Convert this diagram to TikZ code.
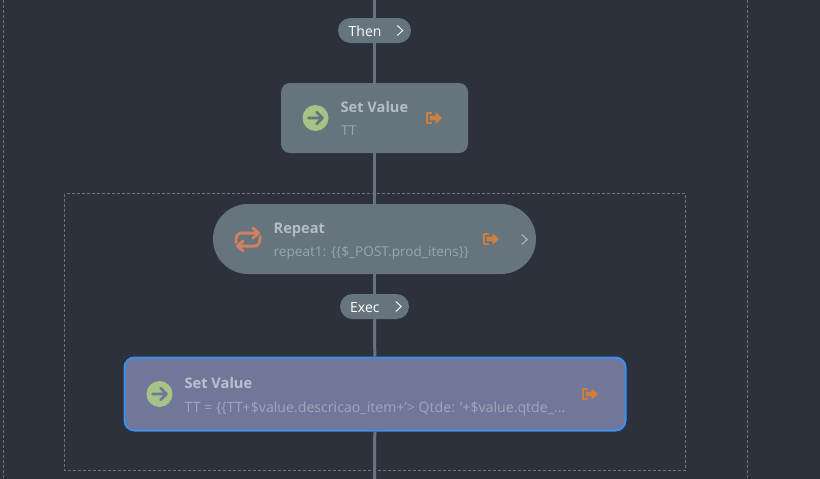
\documentclass[tikz,border=0pt]{standalone}
\usepackage{fontspec}
\setmainfont{Open Sans}
\definecolor{pagebg}{HTML}{2D313C}
\definecolor{nodegray}{HTML}{66747E}
\definecolor{nodeblue}{HTML}{707799}
\definecolor{selblue}{HTML}{3B8FEF}
\definecolor{dashgray}{HTML}{6E747C}
\definecolor{titletxt}{HTML}{B4BCC8}
\definecolor{subtxt}{HTML}{98A6B4}
\definecolor{seltitle}{HTML}{BCC0CE}
\definecolor{selsub}{HTML}{A0A6BC}
\definecolor{okgreen}{HTML}{A6C285}
\definecolor{loopred}{HTML}{CF7F62}
\definecolor{exitorange}{HTML}{CD7F3E}
\tikzset{
  flowbox/.style={draw=none, fill=nodegray, rounded corners=9pt, inner sep=0pt},
  selbox/.style={draw=selblue, line width=2pt, fill=nodeblue, rounded corners=10pt, inner sep=0pt},
  pillbox/.style={fill=nodegray, rounded corners=12.5pt, inner sep=0pt, minimum height=25pt},
  wire/.style={nodegray, line width=3pt},
  frame/.style={dashgray, line width=0.6pt, dash pattern=on 3pt off 2pt},
  titletext/.style={anchor=base west, inner sep=0pt, font=\fontsize{14.6}{16}\selectfont\bfseries, text=titletxt},
  subtext/.style={anchor=base west, inner sep=0pt, font=\fontsize{13.6}{16}\selectfont, text=subtxt},
  pilltext/.style={anchor=base west, inner sep=0pt, font=\fontsize{14}{16}\selectfont, text=white},
  pics/chevron/.style={code={\draw[#1, line width=0.9pt] (-2.7,-5) -- (2.7,0) -- (-2.7,5);}},
  pics/goicon/.style={code={
    \fill[okgreen] (0,0) circle (13);
    \draw[#1, line width=2.6pt, line cap=round, line join=round] (-7,0) -- (7,0) (1,-6) -- (7,0) -- (1,6);
  }},
  pics/exiticon/.style={code={
    \draw[exitorange, line width=1.7pt, line join=round] (-2.5,-5) -- (-7,-5) -- (-7,5) -- (-2.5,5);
    \fill[exitorange] (-4.5,-2.3) -- (1.5,-2.3) -- (1.5,-6) -- (8,0) -- (1.5,6) -- (1.5,2.3) -- (-4.5,2.3) -- cycle;
  }},
  pics/loopicon/.style={code={
    \draw[loopred, line width=3pt, line cap=round, line join=round]
      (-12,3) -- (-12,1) .. controls (-12,-4) and (-10,-6.5) .. (-6,-6.5) -- (10,-6.5)
      (5,-11.5) -- (10.5,-6.5) -- (5,-1.5)
      (12,-3) -- (12,-1) .. controls (12,4) and (10,6.5) .. (6,6.5) -- (-10,6.5)
      (-5,1.5) -- (-10.5,6.5) -- (-5,11.5);
  }}
}
\begin{document}
\begin{tikzpicture}[x=1pt, y=-1pt]
  \useasboundingbox[fill=pagebg] (0,0) rectangle (820,479);
  % dashed frames
  \draw[frame] (3.5,0) -- (3.5,479);
  \draw[frame] (747.5,0) -- (747.5,479);
  \draw[frame] (64.5,193.5) rectangle (685.5,470);
  % nodes
  \coordinate (top) at (374.5,0);
  \coordinate (bottom) at (374.5,479);
  \node[pillbox, minimum width=73pt] (then) at (374.5,30.5) {};
  \node[flowbox, minimum width=187pt, minimum height=70pt] (setone) at (374.5,118) {};
  \node[flowbox, rounded corners=35pt, minimum width=323pt, minimum height=70pt] (repeat) at (374.5,239) {};
  \node[pillbox, minimum width=69pt] (exec) at (374.5,306.5) {};
  \node[selbox, minimum width=501pt, minimum height=73pt] (settwo) at (375,394) {};
  % connectors
  \draw[wire] (top) -- (then);
  \draw[wire] (then) -- (setone);
  \draw[wire] (setone) -- (repeat);
  \draw[wire] (repeat) -- (exec);
  \draw[wire] (exec) -- (settwo);
  \draw[wire] (settwo) -- (bottom);
  % pills
  \node[pilltext] (thenlabel) at (348.5,36) {Then};
  \pic at (400,30.5) {chevron=white};
  \node[pilltext] (execlabel) at (350,312) {Exec};
  \pic at (398.5,306.5) {chevron=white};
  % first set value
  \pic at (315.5,118) {goicon=nodegray};
  \node[titletext] (setonetitle) at (340.5,112) {Set Value};
  \node[subtext] (setonesub) at (341,135.5) {TT};
  \pic at (434,118) {exiticon};
  % repeat
  \pic at (248,239.5) {loopicon};
  \node[titletext] (repeattitle) at (273.5,233) {Repeat};
  \node[subtext] (repeatsub) at (273.5,256.5) {repeat1: \{\{\$\_POST.prod\_itens\}\}};
  \pic at (491,239) {exiticon};
  \pic at (524.5,239.5) {chevron=titletxt};
  % second set value
  \pic at (159.5,394) {goicon=nodeblue};
  \node[titletext, text=seltitle] (settwotitle) at (184.5,388) {Set Value};
  \node[subtext, text=selsub, font=\fontsize{14.15}{16}\selectfont] (settwosub) at (184.5,412) {TT = \{\{TT+\$value.descricao\_item+'> Qtde: '+\$value.qtde\_...};
  \pic at (590,394) {exiticon};
\end{tikzpicture}
\end{document}
